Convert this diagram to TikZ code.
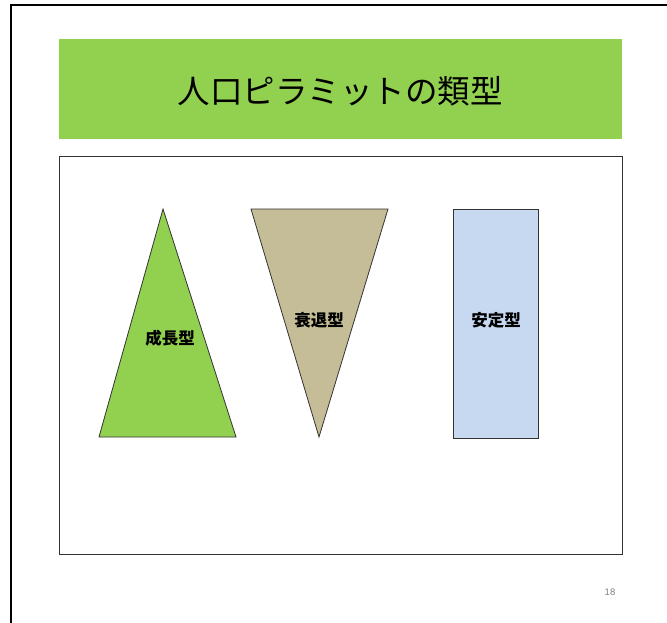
\documentclass[tikz,border=0pt]{standalone}
\usepackage{fontspec}
\newfontfamily\cjk{Noto Sans CJK JP}
\newfontfamily\cjkblack{Noto Sans CJK JP Black}
\newfontfamily\pagefont{Liberation Sans}
\definecolor{titlegreen}{HTML}{92D050}
\definecolor{tan}{HTML}{C4BD97}
\definecolor{paleblue}{HTML}{C6D9F1}
\begin{document}
\begin{tikzpicture}[x=1pt,y=-1pt,
  shapeline/.style={draw=black!80, line width=0.8pt},
  lbl/.style={font=\cjkblack\fontsize{16.5}{16.5}\selectfont, inner sep=0pt}]
\useasboundingbox (0,0) rectangle (667,623);
\fill[white] (0,0) rectangle (667,623);
% outer frame
\draw[line width=2pt] (10.5,623) -- (10.5,5.5) -- (667,5.5);
% title bar
\fill[titlegreen] (59,39) rectangle (622,139);
\node[font=\cjk\fontsize{32.5}{32.5}\selectfont, inner sep=0pt] (title) at (340,91) {人口ピラミットの類型};
% inner box
\draw[draw=black!80, line width=0.9pt] (59,156) rectangle (622,554);
% growth triangle
\coordinate (g1) at (163,209);
\coordinate (g2) at (236,437);
\coordinate (g3) at (99,437);
\filldraw[shapeline, fill=titlegreen] (g1) -- (g2) -- (g3) -- cycle;
\node[lbl] (growth) at (170,338) {成長型};
% decline triangle
\coordinate (d1) at (251,209);
\coordinate (d2) at (388,209);
\coordinate (d3) at (319,437);
\filldraw[shapeline, fill=tan] (d1) -- (d2) -- (d3) -- cycle;
\node[lbl] (decline) at (319,320) {衰退型};
% stable rectangle
\filldraw[shapeline, fill=paleblue] (453,209) rectangle (538,438);
\node[lbl] (stable) at (496,320) {安定型};
% page number
\node[font=\pagefont\fontsize{9.5}{9.5}\selectfont, text=black!50, inner sep=0pt] (page) at (610,592) {18};
\end{tikzpicture}
\end{document}
